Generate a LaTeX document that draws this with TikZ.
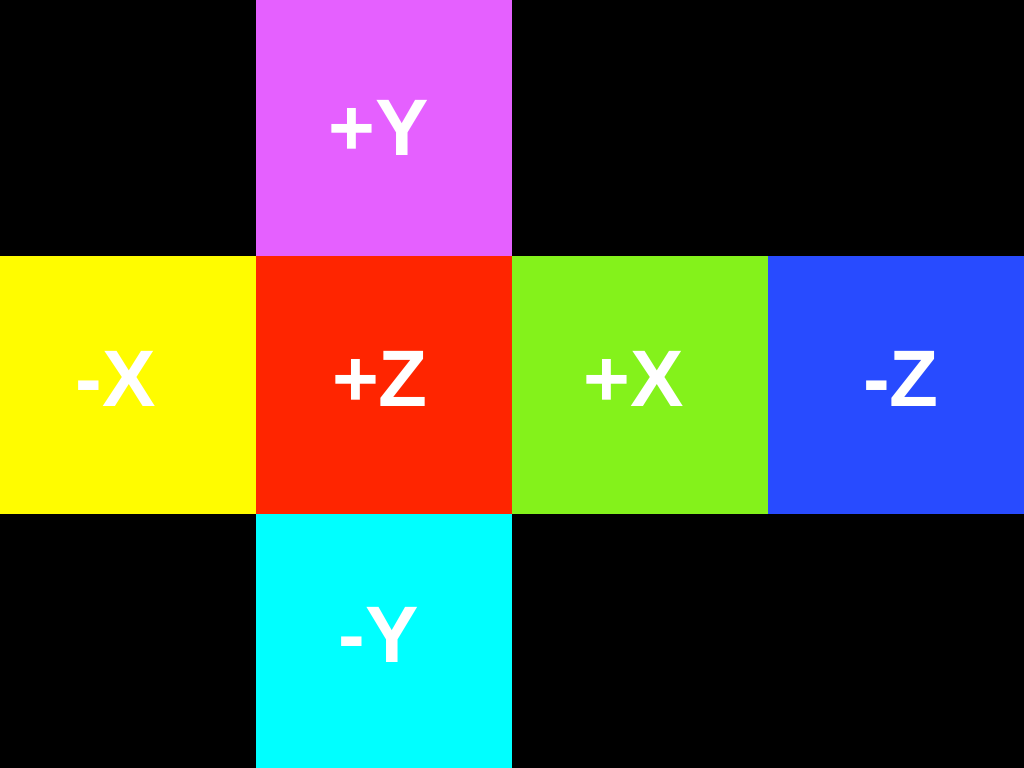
\documentclass[tikz,border=0pt]{standalone}
\usepackage{fontspec}
\setmainfont{Liberation Sans}
\definecolor{cpy}{RGB}{229,96,255}
\definecolor{cmx}{RGB}{255,252,0}
\definecolor{cpz}{RGB}{255,37,0}
\definecolor{cpx}{RGB}{132,242,27}
\definecolor{cmz}{RGB}{40,75,255}
\definecolor{cmy}{RGB}{0,255,255}
\begin{document}
\begin{tikzpicture}[x=0.025cm,y=-0.025cm,
  lbl/.style={inner sep=0pt,anchor=base,text=white,font=\fontsize{57}{68}\selectfont\bfseries}]
\fill[black] (0,0) rectangle (1024,768);
\useasboundingbox (0,0) rectangle (1024,768);
\fill[cpy] (256,0) rectangle (512,256);
\fill[cmx] (0,256) rectangle (256,514);
\fill[cpz] (256,256) rectangle (512,514);
\fill[cpx] (512,256) rectangle (768,514);
\fill[cmz] (768,256) rectangle (1024,514);
\fill[cmy] (256,514) rectangle (512,768);
\node[lbl] (py) at (379,156) {+Y};
\node[lbl] (mx) at (116,406) {-X};
\node[lbl] (pz) at (380,406) {+Z};
\node[lbl] (px) at (634,406) {+X};
\node[lbl] (mz) at (901,406) {-Z};
\node[lbl] (my) at (379,662) {-Y};
\end{tikzpicture}
\end{document}
